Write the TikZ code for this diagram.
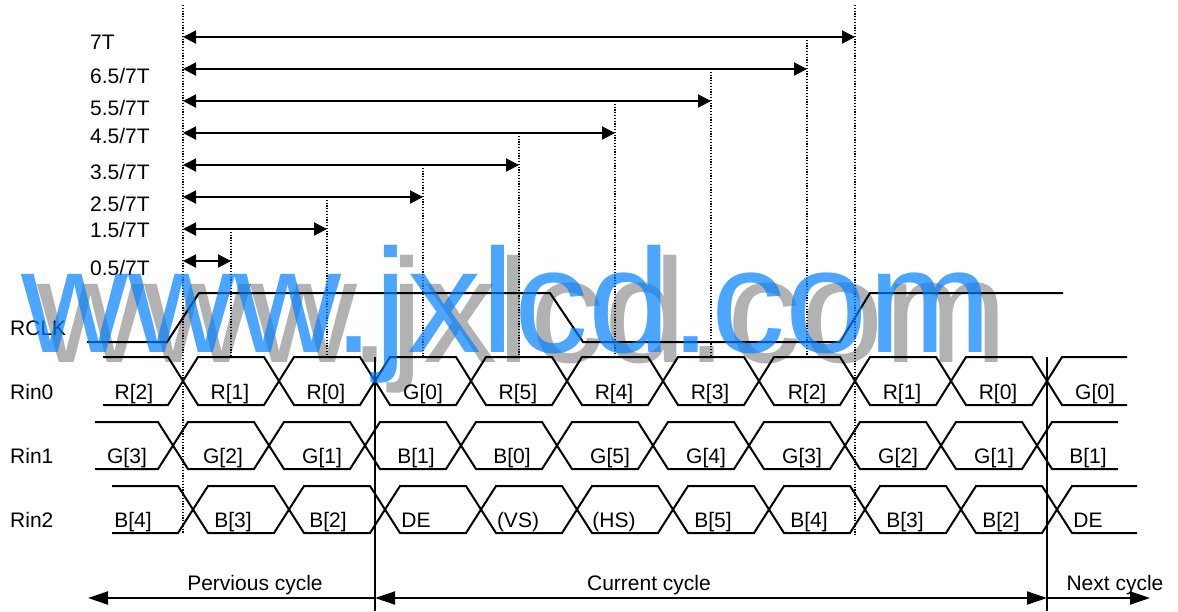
\documentclass[tikz,border=0pt]{standalone}
\usepackage{fontspec}
\setmainfont{Liberation Sans}
\usetikzlibrary{arrows.meta}
\definecolor{wmblue}{RGB}{0,128,255}
\newcommand{\eyewave}[5]{%
  % #1 start x, #2 end x, #3 first crossing x, #4 top y, #5 bottom y
  \draw[wave] (#1,#4) foreach \k in {0,...,9}{ -- ({#3+96*\k-15},{#4+(#5-#4)*mod(\k,2)}) -- ({#3+96*\k+15},{#5-(#5-#4)*mod(\k,2)}) } -- (#2,#4);
  \draw[wave] (#1,#5) foreach \k in {0,...,9}{ -- ({#3+96*\k-15},{#5-(#5-#4)*mod(\k,2)}) -- ({#3+96*\k+15},{#4+(#5-#4)*mod(\k,2)}) } -- (#2,#5);
}
\tikzset{
  ctip/.tip={Triangle[length=20pt,width=13pt]},
  dtip/.tip={Triangle[length=13pt,width=13pt]},
}
\begin{document}
\begin{tikzpicture}[x=1pt,y=-1pt,
  wave/.style={line width=2pt, line join=miter},
  dotline/.style={line width=1.2pt, dash pattern=on 1.2pt off 1.6pt},
  dimarrow/.style={line width=2pt, dtip-dtip},
  cyc/.style={line width=2pt},
  lbl/.style={font=\fontsize{21}{24}\selectfont, inner sep=0pt},
  wm/.style={font=\fontsize{148}{152}\selectfont, inner sep=0pt, anchor=base west},
  ]
\useasboundingbox (0,0) rectangle (1178,611);

% dotted reference lines
\draw[dotline] (183,5) -- (183,533);
\draw[dotline] (855,5) -- (855,535);
\foreach \x/\yy in {807/37, 711/69, 615/101, 519/133, 423/165, 327/197, 231/229}
  \draw[dotline] (\x,\yy) -- (\x,356);

% dimension arrows
\foreach \n/\yy/\x/\t/\b in {a/37/855/7T/49, b/69/807/6.5\slash7T/83, c/101/711/5.5\slash7T/115,
    d/133/615/4.5\slash7T/143, e/165/519/3.5\slash7T/179, f/197/423/2.5\slash7T/211,
    g/229/327/1.5\slash7T/237, h/261/231/0.5\slash7T/275}{
  \coordinate (L\n) at (183,\yy);
  \coordinate (R\n) at (\x,\yy);
  \draw[dimarrow] (L\n) -- (R\n);
  \node[lbl, anchor=base west] (t\n) at (90,\b) {\t};
}

% row labels
\node[lbl, anchor=base west] (rclk) at (10,335) {RCLK};
\node[lbl, anchor=base west] (rin0) at (10,399) {Rin0};
\node[lbl, anchor=base west] (rin1) at (10,463) {Rin1};
\node[lbl, anchor=base west] (rin2) at (10,527) {Rin2};

% RCLK
\draw[wave] (87,342) -- (167,342) -- (199,293) -- (550,293) -- (583,342) -- (840,342) -- (870,293) -- (1063,293);

% data lanes
\eyewave{103}{1127}{183}{357}{405}
\eyewave{95}{1118}{173}{422}{469}
\eyewave{112}{1137}{193}{486}{533}

\foreach \x/\t [count=\i] in {134/R[2],230/R[1],326/R[0],423/G[0],518/R[5],614/R[4],710/R[3],807/R[2],902/R[1],998/R[0],1095/G[0]}
  \node[lbl, anchor=base] (d0\i) at (\x,399) {\t};
\foreach \x/\t [count=\i] in {127/G[3],223/G[2],322/G[1],416/B[1],512/B[0],610/G[5],706/G[4],802/G[3],898/G[2],994/G[1],1088/B[1]}
  \node[lbl, anchor=base] (d1\i) at (\x,463) {\t};
\foreach \x/\t [count=\i] in {133/B[4],233/B[3],328/B[2],416/DE,518/(VS),614/(HS),713/B[5],809/B[4],905/B[3],1001/B[2],1088/DE}
  \node[lbl, anchor=base] (d2\i) at (\x,527) {\t};

% cycle boundaries
\coordinate (bt1) at (375,357); \coordinate (bb1) at (375,611);
\coordinate (bt2) at (1047,357); \coordinate (bb2) at (1047,611);
\draw[line width=1.5pt] (bt1) -- (bb1);
\draw[line width=1.5pt] (bt2) -- (bb2);

\coordinate (p0) at (88,598);
\coordinate (p1) at (375,598);
\coordinate (p2) at (1047,598);
\coordinate (p3) at (1150,598);
\draw[cyc, ctip-] (p0) -- (p1);
\draw[cyc, ctip-ctip] (p1) -- (p2);
\draw[cyc, -ctip] (p2) -- (p3);
\node[lbl, anchor=base] (prev) at (255,590) {Pervious cycle};
\node[lbl, anchor=base] (curr) at (649,590) {Current cycle};
\node[lbl, anchor=base] (next) at (1115,590) {Next cycle};

% watermark
\node[wm, text=black, text opacity=0.3] (wmshadow) at (37,362) {www.jxlcd.com};
\node[wm, text=wmblue, text opacity=0.7] (wmtext) at (21,352) {www.jxlcd.com};
\end{tikzpicture}
\end{document}
